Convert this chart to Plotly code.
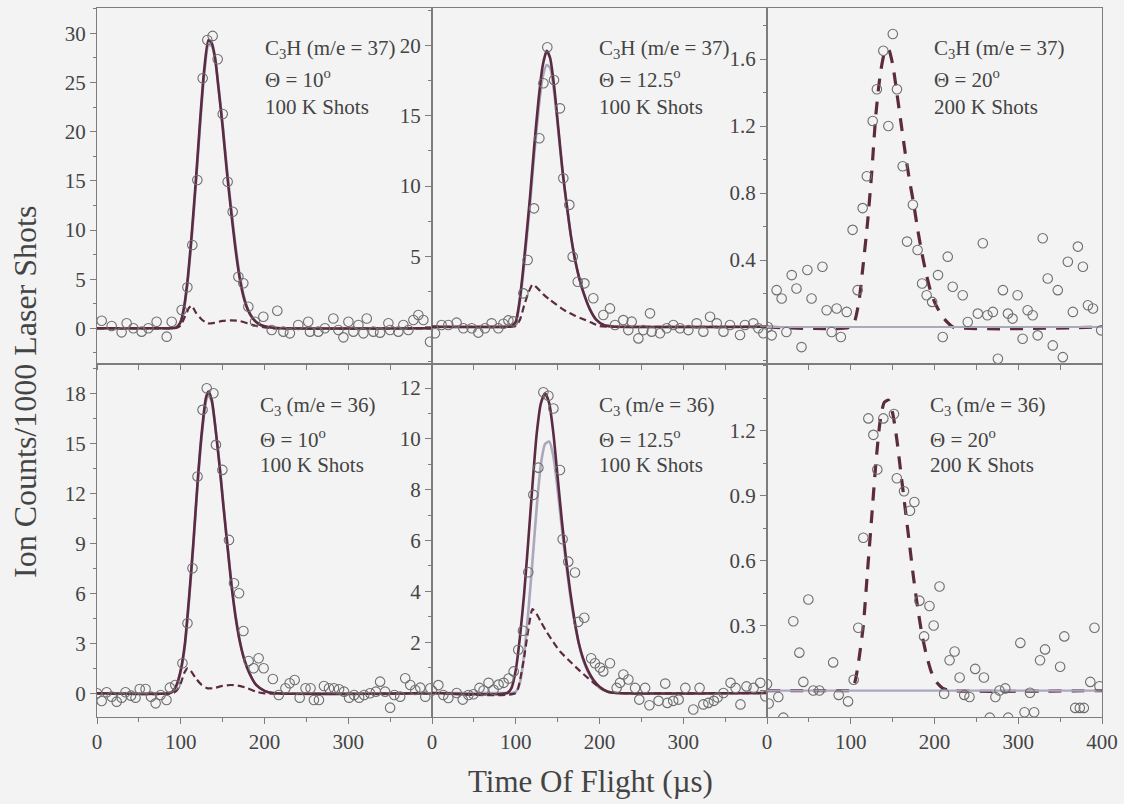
import plotly.graph_objects as go

# ---------------- data ----------------
# Panel 1: C3H, 10 deg
p1_t = [5.6,17.5,29.4,35.4,43.4,53.3,61.3,71.2,83.2,89.2,101.1,107.9,113.8,119.8,126.2,131.7,138.1,144.1,150.1,156.0,162.0,168.8,174.7,180.7,188.7,198.6,208.6,215.3,222.5,230.3,240.3,252.2,254.3,264.2,272.2,282.2,288.2,294.2,300.2,306.1,312.1,318.1,322.1,330.0,338.0,347.9,349.9,359.8,365.8,371.8,377.8,383.7,389.7,397.6]
p1_y = [0.77,0.23,-0.41,0.51,0.0,-0.34,0.0,0.67,-0.85,0.67,1.86,4.17,8.47,15.09,25.43,29.33,29.74,27.36,21.8,14.9,11.86,5.25,4.58,2.2,0.67,1.18,-0.17,1.79,-0.34,-0.51,0.34,0.67,-0.34,-0.34,0.0,1.0,-0.17,-0.92,0.67,-0.34,0.34,-0.51,1.0,-0.34,-0.44,0.51,-0.17,-0.34,0.34,-0.17,0.85,1.36,0.85,-1.36]
p1_fit_t = [0,85,90,95,100,104,108,113,118,123,128,133,137,141,145,150,155,160,165,170,175,180,186,193,200,210,220,400]
p1_total = [0,0,0.02,0.1,0.7,2.2,4.8,9.5,15.0,21.0,26.3,29.3,29.0,27.5,24.5,20.5,16.0,12.0,8.3,5.3,3.2,1.9,1.0,0.45,0.2,0.05,0,0]
p1_gray = [0,0,0.02,0.08,0.6,2.0,4.5,9.1,14.6,20.5,25.8,28.8,28.7,27.4,24.6,20.8,16.4,12.4,8.7,5.6,3.4,2.0,1.05,0.48,0.2,0.05,0,0]
p1_dash_t = [0,90,95,100,105,110,113,118,125,132,140,150,160,170,180,190,200,210,400]
p1_dash = [0,0,0.05,0.3,1.2,2.1,2.3,1.6,0.9,0.5,0.55,0.75,0.8,0.75,0.5,0.25,0.1,0,0]

# Panel 2: C3H, 12.5 deg
p2_t = [3.6,11.5,19.5,29.4,37.4,47.4,55.3,63.3,71.2,79.2,85.2,91.2,97.1,109.1,114.2,121.8,128.2,133.0,137.7,145.7,152.8,156.8,164.0,168.0,174.0,182.0,192.6,204.6,212.5,218.5,228.4,234.4,238.4,246.4,252.3,260.3,262.3,272.2,280.2,288.2,296.1,306.1,316.0,324.0,332.0,340.0,348.0,355.8,367.8,373.7,383.7,389.7,395.6]
p2_y = [-0.47,0.12,0.12,0.29,-0.11,-0.11,-0.42,-0.11,0.24,-0.11,0.21,0.45,0.38,2.37,4.74,8.41,13.39,17.3,19.86,17.53,15.52,10.55,8.66,4.98,3.2,3.08,2.02,0.83,1.3,0.12,0.47,-0.24,0.36,-0.83,-0.24,0.95,-0.35,-0.47,-0.11,0.12,-0.11,-0.24,0.24,-0.35,0.71,0.24,-0.35,0.12,-0.59,0.12,0.24,-0.11,-0.47]
p2_fit_t = [0,90,95,100,104,108,112,117,122,127,132,137,141,146,151,156,161,166,171,176,181,188,196,205,215,400]
p2_total = [0,0,0.05,0.35,1.6,3.6,6.0,9.2,12.8,16.0,18.5,19.6,19.1,17.0,14.0,11.0,8.6,6.4,4.7,3.4,2.4,1.3,0.5,0.12,0.02,0]
p2_gray = [0,0,0.04,0.3,1.4,3.3,5.6,8.7,12.2,15.3,17.7,18.6,18.4,16.6,13.8,10.9,8.6,6.4,4.7,3.4,2.4,1.3,0.5,0.12,0.02,0]
p2_dash_t = [0,95,100,105,110,115,120,125,133,141,149,160,170,180,190,200,210,400]
p2_dash = [0,0,0.05,0.5,1.5,2.4,3.0,2.8,2.3,1.9,1.55,1.1,0.8,0.55,0.3,0.05,0,0]

# Panel 3: C3H, 20 deg
p3_t = [1,5.6,11.5,17.5,23.2,29.5,35.2,41.2,48.2,53.2,66.2,71.2,77.2,83.2,88.2,95.2,102.2,108.2,114.2,119.2,126.2,131.2,138.9,144.9,150.2,155.2,162,167.2,174.2,179.8,185.2,190.6,197.2,204.2,209.8,215.8,221.7,233.7,239.7,251.7,257.7,263.2,269.7,275.7,281.7,287.7,293.2,299.2,305.2,311.2,317.2,323.2,329.2,335.2,341.2,347.2,353.2,359.2,365.2,371.2,377.2,383.2,389.2,399]
p3_y = [0.0,-0.05,0.22,0.17,-0.03,0.31,0.23,-0.12,0.34,0.17,0.36,0.10,-0.03,0.11,-0.06,0.09,0.58,0.22,0.71,0.90,1.23,1.42,1.65,1.20,1.75,1.42,0.96,0.51,0.73,0.46,0.26,0.19,0.15,0.31,-0.06,0.42,0.24,0.19,0.03,0.08,0.50,0.07,0.09,-0.19,0.22,0.08,0.05,0.19,-0.07,0.10,0.07,-0.05,0.53,0.29,-0.11,0.22,-0.18,0.39,0.09,0.48,0.36,0.13,0.11,-0.02]
p3_dash_t = [0,100,105,110,115,120,125,130,135,140,145,150,155,160,165,170,175,180,185,190,195,200,205,210,215,222,400]
p3_dash = [0,0.0,0.04,0.16,0.38,0.62,0.92,1.27,1.5,1.63,1.66,1.57,1.4,1.22,1.04,0.88,0.74,0.58,0.44,0.32,0.22,0.15,0.1,0.06,0.03,0,0]
p3_base_t = [0,400]
p3_base = [0,0]

# Panel 4: C3, 10 deg
p4_t = [0,5.6,11.5,17.5,23.5,29.5,34,40.6,46,51,58,64.5,70,76,83,87,93.5,102,108,114,120,126,131,139,142,149.7,157.6,163.6,169.6,174.8,181,187,193,199,210,217,225,230,236,242,249,255,259,265,271,277,283,289,295,301,307,313,319,326,333,338,344,350,355,362,368,374,380,386,392,398]
p4_y = [0,-0.46,0.06,-0.2,-0.5,-0.26,0.06,-0.14,-0.26,0.26,0.26,-0.2,-0.6,-0.1,-0.4,0.34,0.5,1.8,4.2,7.5,13.0,17.0,18.3,18.0,14.9,13.4,9.2,6.6,6.0,3.74,1.94,1.5,2.1,1.5,0.86,-0.1,0.3,0.6,0.8,-0.26,0.3,0.3,-0.4,-0.4,0.44,0.3,0.3,0.24,0.1,-0.26,-0.1,-0.26,-0.1,0.0,0.1,0.7,0.1,-0.86,-0.1,-0.2,0.9,0.5,0.2,0.34,-0.2,0.3]
p4_fit_t = [0,85,90,95,100,105,110,115,120,125,130,133,137,141,146,151,156,161,166,171,176,182,190,200,210,400]
p4_total = [0,0,0.1,0.5,1.4,3.0,5.8,9.0,12.6,15.6,17.7,18.1,17.6,16.1,13.8,11.2,8.7,6.3,4.4,3.0,2.0,1.2,0.5,0.15,0.02,0]
p4_gray = [0,0,0.08,0.45,1.3,2.85,5.6,8.8,12.4,15.4,17.5,17.9,17.5,16.1,13.9,11.3,8.8,6.4,4.5,3.0,2.0,1.2,0.5,0.15,0.02,0]
p4_dash_t = [0,90,95,100,104,108,112,118,125,132,140,150,160,170,180,190,200,400]
p4_dash = [0,0,0.15,0.6,1.2,1.5,1.35,0.9,0.5,0.3,0.32,0.45,0.5,0.45,0.3,0.1,0,0]

# Panel 5: C3, 12.5 deg
p5_t = [0,7.6,13.5,19.5,29.5,36.7,43.5,49.5,56.7,61.5,67.5,73.5,79.5,85.5,91.5,97.5,103,108.6,115,121,127,133,139,145,152.8,156,162.7,170.7,174.7,181.8,190,194.6,200.5,204.5,212.5,220.5,224.5,228.5,234.5,242.5,247.5,254.5,259.6,270.5,278.5,281,288,294.5,302.5,312,319.5,324,330,336.5,341,348,356.5,362.5,368.3,375.5,384,392,398]
p5_y = [0.1,0.31,-0.08,-0.2,0.0,-0.26,-0.08,-0.05,0.2,0.1,0.4,0.13,0.33,0.4,0.57,0.85,1.7,2.45,4.75,7.8,8.87,11.84,11.7,11.2,8.78,6.05,5.17,4.74,2.8,2.96,1.37,1.17,1.0,0.85,1.17,0.2,0.4,0.73,0.53,0.2,-0.26,0.2,-0.48,-0.31,0.37,-0.39,-0.31,-0.26,0.2,-0.65,0.2,-0.45,-0.39,-0.31,-0.18,0.0,0.4,0.2,-0.45,0.26,0.2,0.4,-0.13]
p5_fit_t = [0,90,95,100,105,110,115,120,125,130,135,140,145,150,155,160,165,170,175,180,186,193,200,210,220,400]
p5_total = [0,0,0.2,0.9,2.2,3.9,6.0,8.2,10.2,11.4,11.8,11.4,10.2,8.5,6.8,5.3,4.0,2.9,2.0,1.4,0.9,0.5,0.25,0.05,0,0]
p5_gray = [0,0,0,0.05,0.4,1.5,3.2,5.2,7.3,9.0,9.8,9.9,9.3,8.0,6.5,5.1,3.85,2.8,2.0,1.35,0.85,0.45,0.2,0.05,0,0]
p5_dash_t = [0,100,105,110,115,120,125,130,137,145,153,163,173,183,193,201,210,220,400]
p5_dash = [0,0,0.5,1.4,2.5,3.3,3.1,2.8,2.4,2.0,1.63,1.3,0.98,0.68,0.4,0.2,0.05,0,0]

# Panel 6: C3, 20 deg
p6_t = [0,2,13.5,19.5,31.4,38.6,43.4,49.4,55.3,62.5,79,85.6,96.8,103.5,109,115,121,127,131.7,138.9,151.6,155,163.6,170.7,176,182,187.6,194,199,206,211.5,218,224,230,235.5,241.8,248.6,259,266,272.7,277.6,284.5,288,302.5,307.5,314,319,326,332,350,355,368,373.5,378.3,386,391,397]
p6_y = [0.03,-0.06,-0.03,-0.125,0.32,0.175,0.04,0.42,0.0,0.0,0.13,-0.02,-0.05,0.05,0.29,0.705,1.256,1.18,1.02,1.256,1.276,0.98,0.92,0.83,0.87,0.415,0.25,0.39,0.3,0.48,-0.015,0.14,0.18,0.06,-0.02,-0.03,0.1,0.06,-0.125,-0.03,0.0,0.01,-0.125,0.22,-0.1,-0.01,-0.1,0.14,0.19,0.11,0.25,-0.08,-0.08,-0.08,0.04,0.29,0.02]
p6_dash_t = [0,95,100,105,110,115,120,125,130,135,140,145,150,155,160,165,170,175,180,185,190,195,200,210,220,400]
p6_dash = [0,0,0.0,0.04,0.15,0.3,0.55,0.8,1.05,1.24,1.33,1.34,1.28,1.16,1.0,0.84,0.68,0.52,0.38,0.26,0.17,0.1,0.05,0.01,0,0]
p6_base_t = [0,400]
p6_base = [0,0]

# labels
panel_labels = [
    ["C<sub>3</sub>H (m/e = 37)", "\u0398 = 10<sup>o</sup>", "100 K Shots"],
    ["C<sub>3</sub>H (m/e = 37)", "\u0398 = 12.5<sup>o</sup>", "100 K Shots"],
    ["C<sub>3</sub>H (m/e = 37)", "\u0398 = 20<sup>o</sup>", "200 K Shots"],
    ["C<sub>3</sub> (m/e = 36)", "\u0398 = 10<sup>o</sup>", "100 K Shots"],
    ["C<sub>3</sub> (m/e = 36)", "\u0398 = 12.5<sup>o</sup>", "100 K Shots"],
    ["C<sub>3</sub> (m/e = 36)", "\u0398 = 20<sup>o</sup>", "200 K Shots"],
]
y_ticks = [
    [0, 5, 10, 15, 20, 25, 30],
    [0, 5, 10, 15, 20],
    [0, 0.4, 0.8, 1.2, 1.6],
    [0, 3, 6, 9, 12, 15, 18],
    [0, 2, 4, 6, 8, 10, 12],
    [0, 0.3, 0.6, 0.9, 1.2],
]
y_tick_text = [
    ["0", "5", "10", "15", "20", "25", "30"],
    ["", "5", "10", "15", "20"],
    ["", "0.4", "0.8", "1.2", "1.6"],
    ["0", "3", "6", "9", "12", "15", "18"],
    ["", "2", "4", "6", "8", "10", "12"],
    ["", "0.3", "0.6", "0.9", "1.2"],
]
y_minor = [2.5, 2.5, 0.2, 1.5, 1, 0.15]
y_ranges = [[-3.63, 32.58], [-2.65, 22.65], [-0.221, 1.905],
            [-1.42, 19.75], [-0.945, 12.95], [-0.122, 1.507]]
x_ticks_bottom = [[0, 100, 200, 300], [0, 100, 200, 300], [0, 100, 200, 300, 400]]

# ---------------- style ----------------
W, H = 1124, 804
BG = "#f3f3f3"
FONT = "Liberation Serif, Times New Roman, serif"
TXT = "#444444"
AX = "#7d7d7d"
C_TOTAL = "#5a2b42"
C_GRAY = "#aba8bd"
C_DASH = "#5c2c3c"
C_MARK = "#6e6e6e"

xdom_px = [(97, 432), (432, 767), (767, 1102)]
ydom_px = [(8, 364), (364, 717)]

def px2x(p):
    return p / W

def px2y(p):
    return 1 - p / H

fig = go.Figure()

panels = [
    dict(t=p1_t, y=p1_y, fit_t=p1_fit_t, total=p1_total, gray=p1_gray, dt=p1_dash_t, d=p1_dash),
    dict(t=p2_t, y=p2_y, fit_t=p2_fit_t, total=p2_total, gray=p2_gray, dt=p2_dash_t, d=p2_dash),
    dict(t=p3_t, y=p3_y, dt=p3_dash_t, d=p3_dash, bt=p3_base_t, b=p3_base),
    dict(t=p4_t, y=p4_y, fit_t=p4_fit_t, total=p4_total, gray=p4_gray, dt=p4_dash_t, d=p4_dash),
    dict(t=p5_t, y=p5_y, fit_t=p5_fit_t, total=p5_total, gray=p5_gray, dt=p5_dash_t, d=p5_dash),
    dict(t=p6_t, y=p6_y, dt=p6_dash_t, d=p6_dash, bt=p6_base_t, b=p6_base),
]

for i, p in enumerate(panels):
    xa = "x" if i == 0 else f"x{i+1}"
    ya = "y" if i == 0 else f"y{i+1}"
    big = "bt" in p
    if not big:
        fig.add_trace(go.Scatter(x=p["fit_t"], y=p["gray"], mode="lines",
                                 line=dict(color=C_GRAY, width=2.6, shape="spline", smoothing=0.6),
                                 xaxis=xa, yaxis=ya, showlegend=False, hoverinfo="skip"))
        fig.add_trace(go.Scatter(x=p["fit_t"], y=p["total"], mode="lines",
                                 line=dict(color=C_TOTAL, width=2.6, shape="spline", smoothing=0.6),
                                 xaxis=xa, yaxis=ya, showlegend=False, hoverinfo="skip"))
        fig.add_trace(go.Scatter(x=p["dt"], y=p["d"], mode="lines",
                                 line=dict(color=C_DASH, width=2.2, dash="7px,4px", shape="spline", smoothing=0.6),
                                 xaxis=xa, yaxis=ya, showlegend=False, hoverinfo="skip"))
    else:
        fig.add_trace(go.Scatter(x=p["dt"], y=p["d"], mode="lines",
                                 line=dict(color=C_DASH, width=3.2, dash="13px,10px", shape="spline", smoothing=0.6),
                                 xaxis=xa, yaxis=ya, showlegend=False, hoverinfo="skip"))
        fig.add_trace(go.Scatter(x=p["bt"], y=p["b"], mode="lines",
                                 line=dict(color=C_GRAY, width=2.2),
                                 xaxis=xa, yaxis=ya, showlegend=False, hoverinfo="skip"))
    fig.add_trace(go.Scatter(x=p["t"], y=p["y"], mode="markers",
                             marker=dict(symbol="circle-open", size=9.5, color=C_MARK, line=dict(width=1.1, color=C_MARK)),
                             xaxis=xa, yaxis=ya, showlegend=False, hoverinfo="skip"))

layout = dict(width=W, height=H, autosize=False, paper_bgcolor=BG, plot_bgcolor=BG,
              margin=dict(l=0, r=0, t=0, b=0, pad=0), showlegend=False,
              font=dict(family=FONT, size=21, color=TXT))

for i in range(6):
    row, col = divmod(i, 3)
    xk = "xaxis" if i == 0 else f"xaxis{i+1}"
    yk = "yaxis" if i == 0 else f"yaxis{i+1}"
    xa = "x" if i == 0 else f"x{i+1}"
    ya = "y" if i == 0 else f"y{i+1}"
    x0, x1 = xdom_px[col]
    y0, y1 = ydom_px[row]
    xd = dict(domain=[px2x(x0), px2x(x1)], range=[0, 400], anchor=ya, automargin=False,
              showline=True, linecolor=AX, linewidth=1, mirror=True,
              showgrid=False, zeroline=False, ticks="outside", tickcolor=AX,
              tickwidth=1, ticklen=6,
              tickfont=dict(family=FONT, size=21, color=TXT))
    if row == 0:
        xd.update(tickmode="linear", tick0=0, dtick=50, showticklabels=False, ticklen=5)
    else:
        xd.update(tickmode="array", tickvals=x_ticks_bottom[col],
                  ticktext=[str(v) for v in x_ticks_bottom[col]],
                  minor=dict(tickmode="linear", tick0=0, dtick=50, ticklen=4, tickcolor=AX, ticks="outside"))
    yd = dict(domain=[px2y(y1), px2y(y0)], range=y_ranges[i], anchor=xa, automargin=False,
              showline=True, linecolor=AX, linewidth=1, mirror=True,
              showgrid=False, zeroline=False, ticks="outside", tickcolor=AX,
              tickwidth=1, ticklen=6, tickmode="array", tickvals=y_ticks[i],
              ticktext=y_tick_text[i],
              minor=dict(tickmode="linear", tick0=0, dtick=y_minor[i], ticklen=3, tickcolor=AX, ticks="outside"),
              tickfont=dict(family=FONT, size=21, color=TXT))
    layout[xk] = xd
    layout[yk] = yd

fig.update_layout(**layout)

# panel annotations
text_left_px = [263, 597, 932, 258, 597, 928]
line_y_px = [[49, 79, 107], [406, 438, 465]]
for i in range(6):
    row = i // 3
    for k, txt in enumerate(panel_labels[i]):
        fig.add_annotation(text=txt, x=px2x(text_left_px[i]), y=px2y(line_y_px[row][k]),
                           xref="paper", yref="paper", xanchor="left", yanchor="middle",
                           showarrow=False, font=dict(family=FONT, size=21, color=TXT))

# axis titles
fig.add_annotation(text="Ion Counts/1000 Laser Shots", x=px2x(25), y=px2y(392),
                   xref="paper", yref="paper", textangle=-90, showarrow=False,
                   xanchor="center", yanchor="middle",
                   font=dict(family=FONT, size=32, color=TXT))
fig.add_annotation(text="Time Of Flight (\u00b5s)", x=px2x(590), y=px2y(781),
                   xref="paper", yref="paper", showarrow=False,
                   xanchor="center", yanchor="middle",
                   font=dict(family=FONT, size=31, color=TXT))

fig.write_html("out.html", config={"responsive": False, "displayModeBar": False},
               post_script="document.body.style.margin='0';document.body.style.padding='0';"
                           "document.documentElement.style.overflow='hidden';"
                           "document.body.style.overflow='hidden';")
